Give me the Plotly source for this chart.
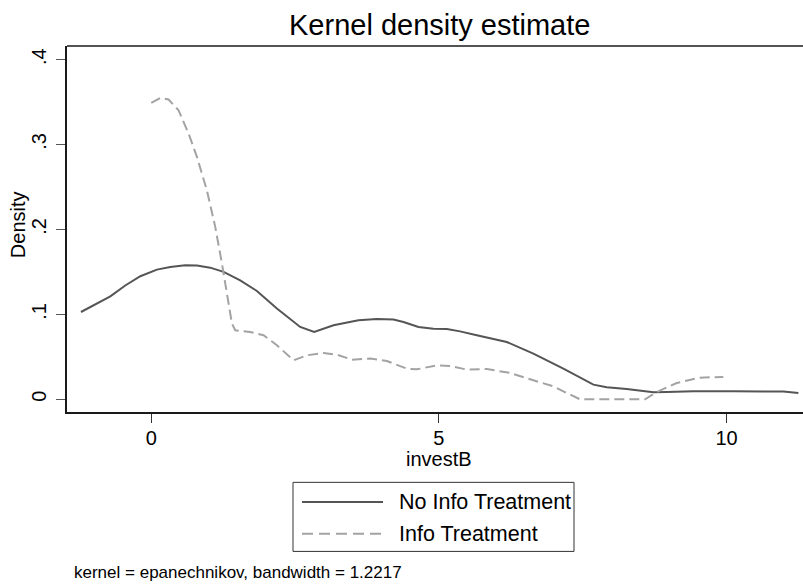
import plotly.graph_objects as go

# ---- data ----
noinfo_x = [-1.222, -0.712, -0.452, -0.19, 0.098, 0.33, 0.59, 0.794, 1.025, 1.257, 1.546, 1.836,
            2.184, 2.589, 2.832, 3.168, 3.602, 3.921, 4.211, 4.385, 4.645, 4.906, 5.139, 5.369,
            5.659, 6.18, 6.643, 7.164, 7.686, 7.918, 8.266, 8.728, 8.96, 9.423, 10.118, 10.70,
            10.99, 11.25]
noinfo_y = [0.1028, 0.1213, 0.134, 0.1449, 0.1527, 0.1558, 0.1578, 0.1575, 0.155, 0.150, 0.140, 0.1276,
            0.1068, 0.0852, 0.0793, 0.0872, 0.093, 0.0946, 0.0939, 0.0911, 0.0852, 0.0832, 0.0828, 0.080,
            0.0754, 0.0675, 0.0538, 0.0362, 0.0173, 0.0141, 0.0121, 0.0082, 0.0086, 0.0094, 0.0094, 0.0091,
            0.0091, 0.0074]

info_x = [0.0, 0.156, 0.3, 0.474, 0.648, 0.794, 0.967, 1.112, 1.228, 1.315, 1.402, 1.46, 1.72,
          1.952, 2.184, 2.473, 2.705, 2.994, 3.227, 3.488, 3.806, 4.096, 4.443, 4.617, 4.964,
          5.196, 5.486, 5.833, 6.238, 6.643, 6.99, 7.223, 7.454, 8.584, 8.787, 9.135, 9.539, 9.944]
info_y = [0.349, 0.3549, 0.353, 0.3404, 0.313, 0.2854, 0.246, 0.203, 0.160, 0.1245, 0.0892, 0.0813, 0.0793,
          0.0754, 0.0636, 0.0459, 0.0518, 0.0545, 0.0526, 0.0467, 0.0479, 0.0451, 0.0361, 0.0353, 0.040,
          0.0392, 0.035, 0.0357, 0.031, 0.0224, 0.0153, 0.0074, 0.0, 0.0, 0.0086, 0.0192, 0.0255, 0.0263]

series_names = ["No Info Treatment", "Info Treatment"]
x_tickvals = [0, 5, 10]
x_ticktext = ["0", "5", "10"]
y_tickvals = [0, 0.1, 0.2, 0.3, 0.4]
y_ticktext = ["0", ".1", ".2", ".3", ".4"]

title_text = "Kernel density estimate"
x_title = "investB"
y_title = "Density"
note_text = "kernel = epanechnikov, bandwidth = 1.2217"

# ---- styling ----
FONT = "Liberation Sans, Arial, Helvetica, sans-serif"
C_SOLID = "#555555"
C_DASH = "#a3a3a3"
DASH = "10px,5px"

fig = go.Figure()
fig.add_trace(go.Scatter(x=noinfo_x, y=noinfo_y, mode="lines", name=series_names[0],
                         line=dict(color=C_SOLID, width=2), showlegend=False))
fig.add_trace(go.Scatter(x=info_x, y=info_y, mode="lines", name=series_names[1],
                         line=dict(color=C_DASH, width=2, dash=DASH), showlegend=False))

fig.update_layout(
    width=803, height=584,
    margin=dict(l=67, r=0, t=46, b=172),
    paper_bgcolor="white", plot_bgcolor="white",
    font=dict(family=FONT, color="black", size=20),
    xaxis=dict(range=[-1.465, 11.33], tickvals=x_tickvals, ticktext=x_ticktext,
               showgrid=False, zeroline=False, showline=True, linecolor="#1a1a1a", linewidth=2,
               ticks="outside", ticklen=9, tickwidth=1, tickcolor="#333333",
               tickfont=dict(size=20, family=FONT), ticklabelstandoff=-2),
    yaxis=dict(range=[-0.01495, 0.416], tickvals=y_tickvals, ticktext=y_ticktext,
               showgrid=False, zeroline=False, showline=True, linecolor="#1a1a1a", linewidth=1.5,
               ticks="outside", ticklen=9, tickwidth=1, tickcolor="#555555", tickangle=-90,
               tickfont=dict(size=20, family=FONT), ticklabelstandoff=2),
)

def px(X):
    return (X - 67) / 736.0

def py(Y):
    return (411.7 - Y) / 365.7

shapes = [
    # top frame line
    dict(type="line", xref="paper", yref="paper", x0=0, x1=1, y0=1, y1=1,
         line=dict(color="#1a1a1a", width=1.5)),
    # legend box
    dict(type="rect", xref="paper", yref="paper", x0=px(293), x1=px(574), y0=py(551), y1=py(482),
         line=dict(color="#333333", width=1), fillcolor="white"),
    # legend samples
    dict(type="line", xref="paper", yref="paper", x0=px(302), x1=px(383), y0=py(501.7), y1=py(501.7),
         line=dict(color=C_SOLID, width=2)),
    dict(type="line", xref="paper", yref="paper", x0=px(302), x1=px(383), y0=py(533.3), y1=py(533.3),
         line=dict(color=C_DASH, width=2, dash="11px,6px")),
]
fig.update_layout(shapes=shapes)

ann = [
    dict(text=title_text, x=px(439), y=py(25), xanchor="center", yanchor="middle",
         font=dict(size=29, family=FONT)),
    dict(text=x_title, x=px(439), y=py(459), xanchor="center", yanchor="middle",
         font=dict(size=20, family=FONT)),
    dict(text=y_title, x=px(18), y=py(225), xanchor="center", yanchor="middle", textangle=-90,
         font=dict(size=20, family=FONT)),
    dict(text=series_names[0], x=px(397), y=py(501.7), xanchor="left", yanchor="middle",
         font=dict(size=21.5, family=FONT)),
    dict(text=series_names[1], x=px(397), y=py(533.3), xanchor="left", yanchor="middle",
         font=dict(size=21.5, family=FONT)),
    dict(text=note_text, x=px(72), y=py(572), xanchor="left", yanchor="middle",
         font=dict(size=17, family=FONT)),
]
for a in ann:
    a.update(xref="paper", yref="paper", showarrow=False)
fig.update_layout(annotations=ann)

fig.write_html("out.html")
